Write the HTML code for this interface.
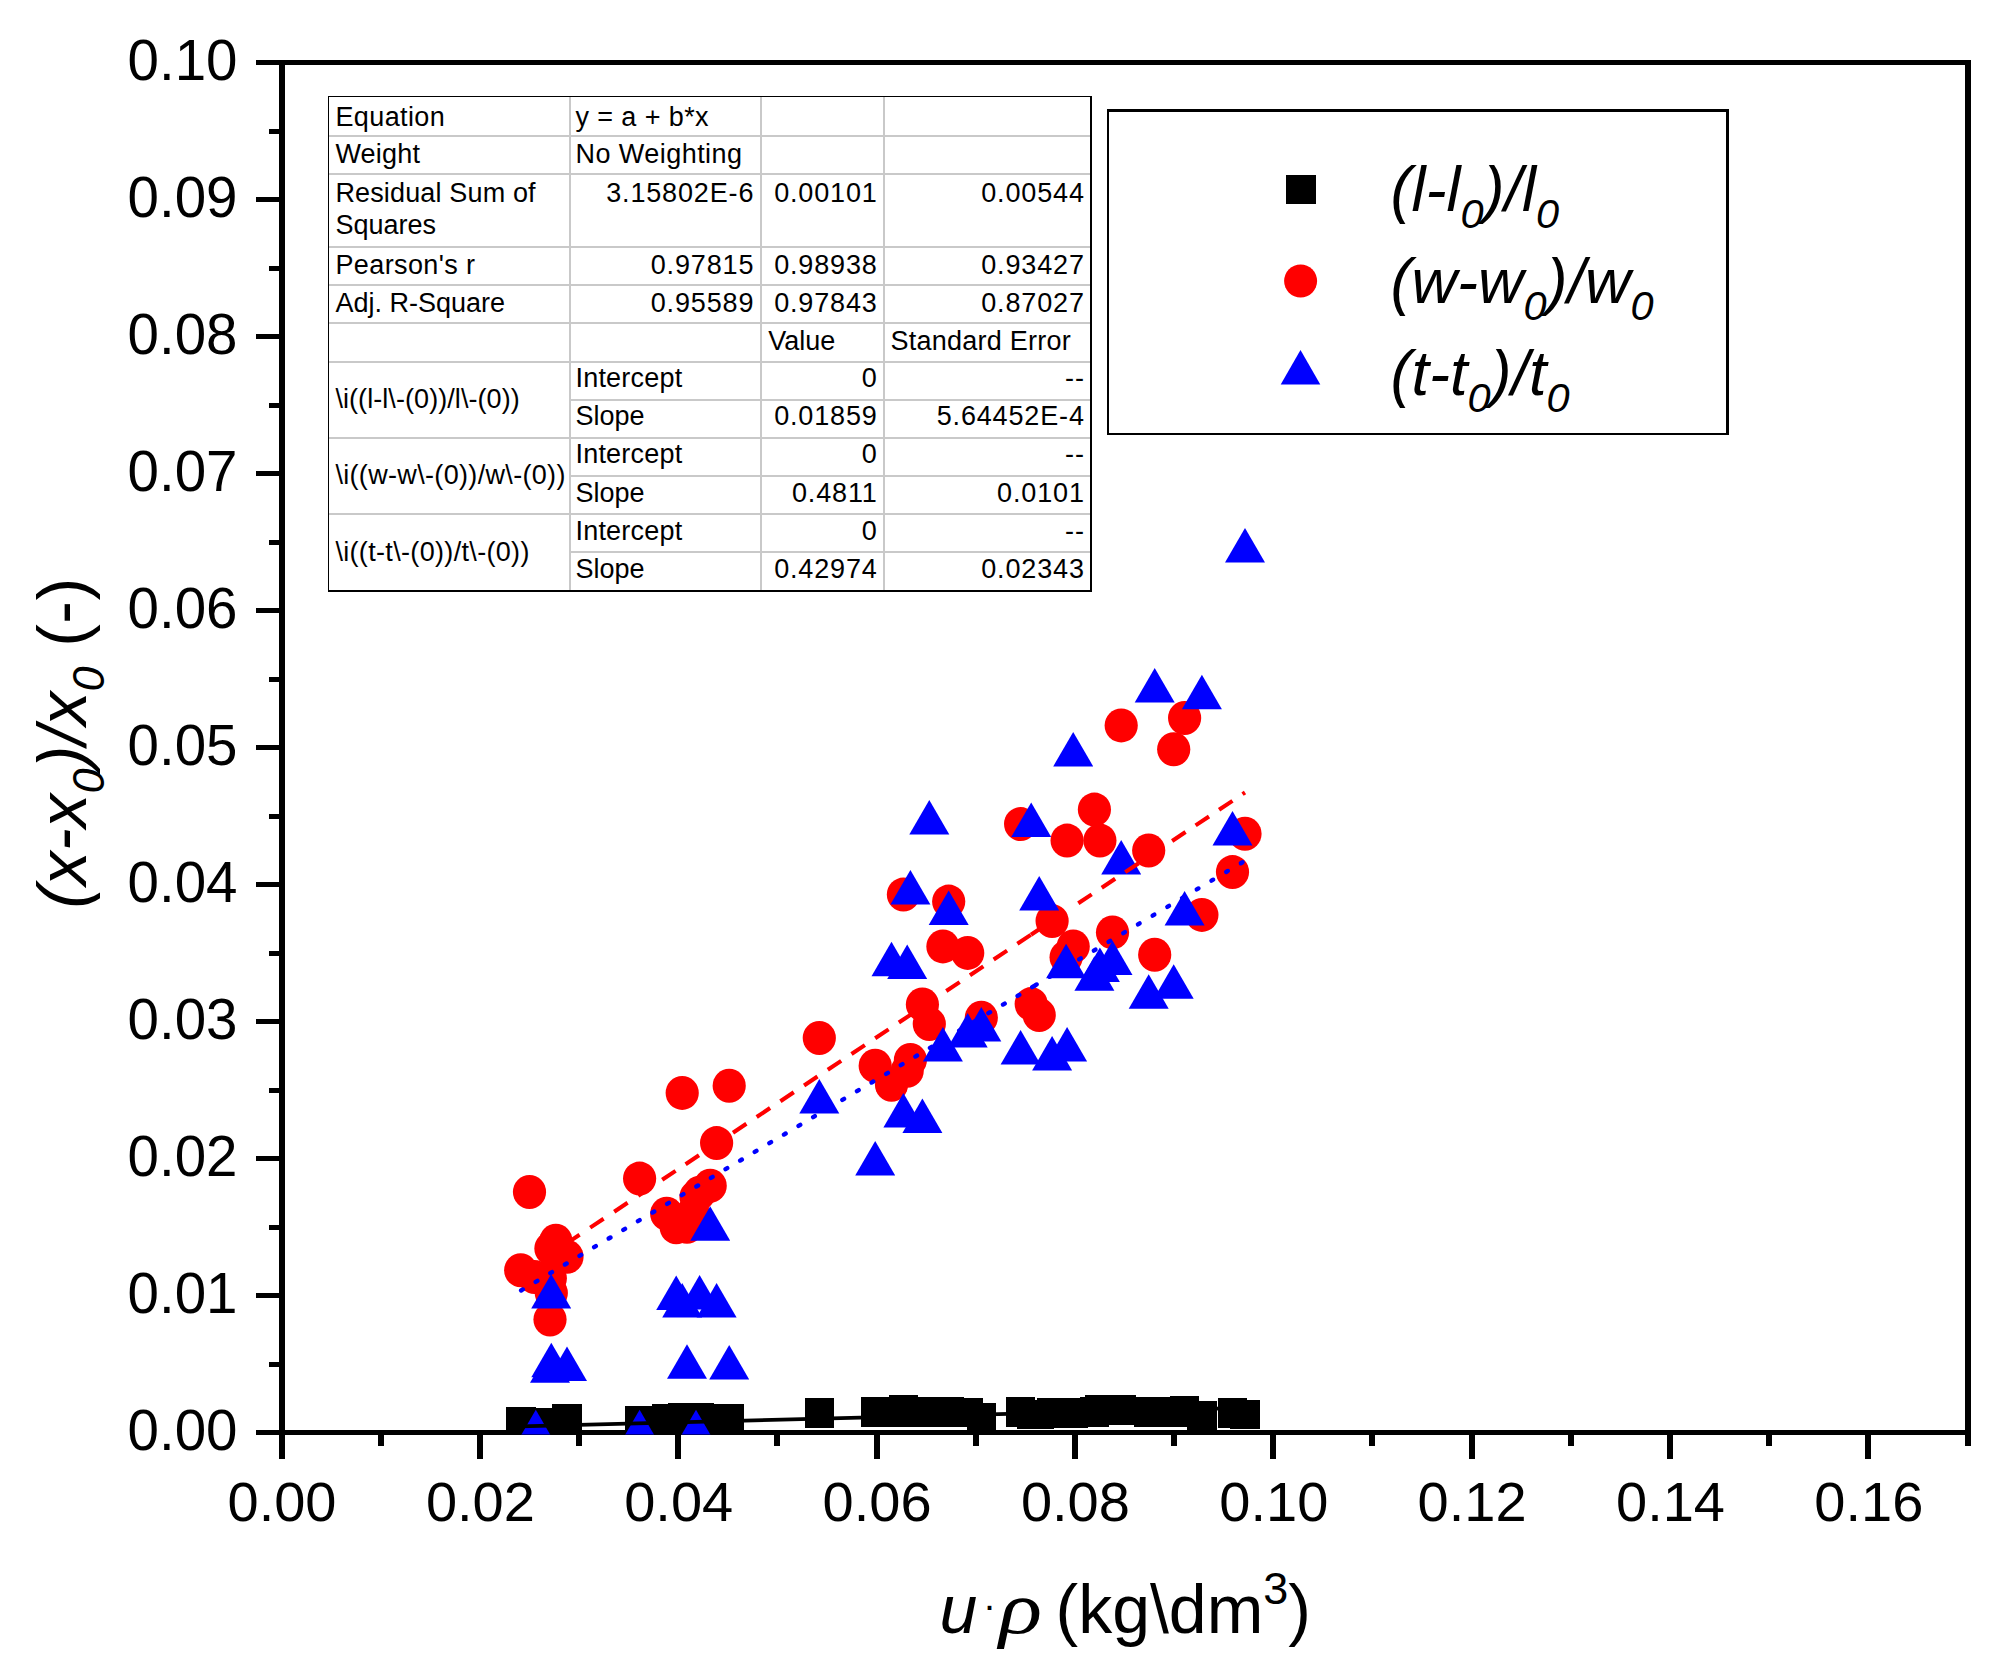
<!DOCTYPE html>
<html lang="en"><head><meta charset="utf-8"><title>Linear fit plot</title>
<style>
html,body{margin:0;padding:0;background:#fff;}
body{width:2011px;height:1678px;overflow:hidden;}
svg{display:block;}
text{font-family:"Liberation Sans",Arial,sans-serif;fill:#000;}
.tk{font-size:56.5px;}
.tt{font-size:68px;}
.lg{font-size:63px;font-style:italic;}
.tb{font-size:27px;}
.it{font-style:italic;}
.rho{font-family:"Liberation Serif","DejaVu Serif",serif;font-style:italic;font-size:73px;}
.num{letter-spacing:0.85px;}
</style></head><body>
<svg width="2011" height="1678" viewBox="0 0 2011 1678">
<rect x="0" y="0" width="2011" height="1678" fill="#fff"/>
<g fill="#000" shape-rendering="crispEdges">
<rect x="256" y="60" width="1715" height="5"/>
<rect x="256" y="1430" width="1715" height="5"/>
<rect x="279" y="60" width="6" height="1399"/>
<rect x="1965" y="60" width="6" height="1386"/>
<rect x="269" y="1361.5" width="11" height="5"/>
<rect x="256" y="1293.0" width="24" height="5"/>
<rect x="269" y="1224.5" width="11" height="5"/>
<rect x="256" y="1156.0" width="24" height="5"/>
<rect x="269" y="1087.5" width="11" height="5"/>
<rect x="256" y="1019.0" width="24" height="5"/>
<rect x="269" y="950.5" width="11" height="5"/>
<rect x="256" y="882.0" width="24" height="5"/>
<rect x="269" y="813.5" width="11" height="5"/>
<rect x="256" y="745.0" width="24" height="5"/>
<rect x="269" y="676.5" width="11" height="5"/>
<rect x="256" y="608.0" width="24" height="5"/>
<rect x="269" y="539.5" width="11" height="5"/>
<rect x="256" y="471.0" width="24" height="5"/>
<rect x="269" y="402.5" width="11" height="5"/>
<rect x="256" y="334.0" width="24" height="5"/>
<rect x="269" y="265.5" width="11" height="5"/>
<rect x="256" y="197.0" width="24" height="5"/>
<rect x="269" y="128.5" width="11" height="5"/>
<rect x="377.7" y="1434" width="6" height="12"/>
<rect x="476.9" y="1434" width="6" height="25"/>
<rect x="576.0" y="1434" width="6" height="12"/>
<rect x="675.2" y="1434" width="6" height="25"/>
<rect x="774.4" y="1434" width="6" height="12"/>
<rect x="873.6" y="1434" width="6" height="25"/>
<rect x="972.7" y="1434" width="6" height="12"/>
<rect x="1071.9" y="1434" width="6" height="25"/>
<rect x="1171.1" y="1434" width="6" height="12"/>
<rect x="1270.3" y="1434" width="6" height="25"/>
<rect x="1369.4" y="1434" width="6" height="12"/>
<rect x="1468.6" y="1434" width="6" height="25"/>
<rect x="1567.8" y="1434" width="6" height="12"/>
<rect x="1667.0" y="1434" width="6" height="25"/>
<rect x="1766.1" y="1434" width="6" height="12"/>
<rect x="1865.3" y="1434" width="6" height="25"/>
</g>
<g class="tk" text-anchor="end">
<text x="237.5" y="1450.1">0.00</text>
<text x="237.5" y="1313.1">0.01</text>
<text x="237.5" y="1176.1">0.02</text>
<text x="237.5" y="1039.1">0.03</text>
<text x="237.5" y="902.1">0.04</text>
<text x="237.5" y="765.1">0.05</text>
<text x="237.5" y="628.1">0.06</text>
<text x="237.5" y="491.1">0.07</text>
<text x="237.5" y="354.1">0.08</text>
<text x="237.5" y="217.1">0.09</text>
<text x="237.5" y="80.1">0.10</text>
</g>
<g class="tk" text-anchor="middle" style="font-size:56px">
<text x="282.0" y="1521.2">0.00</text>
<text x="480.4" y="1521.2">0.02</text>
<text x="678.7" y="1521.2">0.04</text>
<text x="877.1" y="1521.2">0.06</text>
<text x="1075.4" y="1521.2">0.08</text>
<text x="1273.8" y="1521.2">0.10</text>
<text x="1472.1" y="1521.2">0.12</text>
<text x="1670.5" y="1521.2">0.14</text>
<text x="1868.8" y="1521.2">0.16</text>
</g>
<text class="tt it" x="939.5" y="1632.7">u</text>
<text x="983" y="1619" font-size="39px">&#183;</text>
<text class="rho" transform="translate(999 1632.7) scale(1.23 1)">&#961;</text>
<text class="tt" x="1055.5" y="1632.7">(kg\dm<tspan font-size="45px" dy="-28.4">3</tspan><tspan dy="28.4">)</tspan></text>
<text class="tt" transform="translate(86.1 908.5) rotate(-90)" letter-spacing="0.4"><tspan class="it">(x-x</tspan><tspan class="it" font-size="45px" dy="17.6">0</tspan><tspan class="it" dy="-17.6">)/x</tspan><tspan class="it" font-size="45px" dy="17.6">0</tspan><tspan dy="-17.6"> (-)</tspan></text>
<defs><clipPath id="pc"><rect x="279" y="60" width="1692" height="1374.5"/></clipPath></defs>
<g clip-path="url(#pc)">
<g fill="#000" shape-rendering="crispEdges">
<rect x="506.0" y="1407.0" width="29.5" height="29.8"/>
<rect x="514.8" y="1407.7" width="29.5" height="29.8"/>
<rect x="521.0" y="1407.7" width="29.5" height="29.8"/>
<rect x="535.2" y="1407.7" width="29.5" height="29.8"/>
<rect x="536.5" y="1407.7" width="29.5" height="29.8"/>
<rect x="541.1" y="1407.7" width="29.5" height="29.8"/>
<rect x="552.2" y="1404.1" width="29.5" height="29.8"/>
<rect x="624.9" y="1405.9" width="29.5" height="29.8"/>
<rect x="652.0" y="1404.0" width="29.5" height="29.8"/>
<rect x="661.5" y="1404.0" width="29.5" height="29.8"/>
<rect x="667.5" y="1402.9" width="29.5" height="29.8"/>
<rect x="672.2" y="1402.9" width="29.5" height="29.8"/>
<rect x="681.2" y="1402.9" width="29.5" height="29.8"/>
<rect x="684.9" y="1402.9" width="29.5" height="29.8"/>
<rect x="695.5" y="1403.7" width="29.5" height="29.8"/>
<rect x="701.9" y="1404.0" width="29.5" height="29.8"/>
<rect x="714.5" y="1404.0" width="29.5" height="29.8"/>
<rect x="804.5" y="1397.9" width="29.5" height="29.8"/>
<rect x="860.5" y="1397.1" width="29.5" height="29.8"/>
<rect x="876.8" y="1397.1" width="29.5" height="29.8"/>
<rect x="888.6" y="1394.9" width="29.5" height="29.8"/>
<rect x="892.5" y="1397.1" width="29.5" height="29.8"/>
<rect x="895.6" y="1397.1" width="29.5" height="29.8"/>
<rect x="907.6" y="1397.1" width="29.5" height="29.8"/>
<rect x="914.5" y="1397.1" width="29.5" height="29.8"/>
<rect x="928.1" y="1397.1" width="29.5" height="29.8"/>
<rect x="934.0" y="1396.7" width="29.5" height="29.8"/>
<rect x="953.0" y="1397.5" width="29.5" height="29.8"/>
<rect x="966.5" y="1402.6" width="29.5" height="29.8"/>
<rect x="1005.9" y="1397.1" width="29.5" height="29.8"/>
<rect x="1016.5" y="1399.6" width="29.5" height="29.8"/>
<rect x="1024.5" y="1399.6" width="29.5" height="29.8"/>
<rect x="1037.3" y="1397.8" width="29.5" height="29.8"/>
<rect x="1051.3" y="1397.8" width="29.5" height="29.8"/>
<rect x="1052.3" y="1397.8" width="29.5" height="29.8"/>
<rect x="1058.5" y="1397.8" width="29.5" height="29.8"/>
<rect x="1079.7" y="1397.1" width="29.5" height="29.8"/>
<rect x="1085.2" y="1394.9" width="29.5" height="29.8"/>
<rect x="1097.8" y="1395.6" width="29.5" height="29.8"/>
<rect x="1106.5" y="1394.9" width="29.5" height="29.8"/>
<rect x="1134.0" y="1397.1" width="29.5" height="29.8"/>
<rect x="1140.0" y="1397.1" width="29.5" height="29.8"/>
<rect x="1159.0" y="1397.1" width="29.5" height="29.8"/>
<rect x="1169.8" y="1395.9" width="29.5" height="29.8"/>
<rect x="1187.2" y="1401.1" width="29.5" height="29.8"/>
<rect x="1217.8" y="1397.7" width="29.5" height="29.8"/>
<rect x="1230.2" y="1399.6" width="29.5" height="29.8"/>
</g>
<g fill="#f00">
<ellipse cx="520.7" cy="1270.2" rx="16.6" ry="17"/>
<ellipse cx="529.5" cy="1192.0" rx="16.6" ry="17"/>
<ellipse cx="534.5" cy="1277.0" rx="16.6" ry="17"/>
<ellipse cx="550.0" cy="1319.6" rx="16.6" ry="17"/>
<ellipse cx="550.3" cy="1278.2" rx="16.6" ry="17"/>
<ellipse cx="550.9" cy="1248.4" rx="16.6" ry="17"/>
<ellipse cx="551.3" cy="1293.0" rx="16.6" ry="17"/>
<ellipse cx="555.9" cy="1240.7" rx="16.6" ry="17"/>
<ellipse cx="567.0" cy="1256.8" rx="16.6" ry="17"/>
<ellipse cx="639.6" cy="1178.6" rx="16.6" ry="17"/>
<ellipse cx="666.7" cy="1213.8" rx="16.6" ry="17"/>
<ellipse cx="676.2" cy="1227.2" rx="16.6" ry="17"/>
<ellipse cx="682.2" cy="1092.9" rx="16.6" ry="17"/>
<ellipse cx="687.0" cy="1226.7" rx="16.6" ry="17"/>
<ellipse cx="696.0" cy="1197.1" rx="16.6" ry="17"/>
<ellipse cx="693.0" cy="1213.0" rx="16.6" ry="17"/>
<ellipse cx="699.6" cy="1192.7" rx="16.6" ry="17"/>
<ellipse cx="710.2" cy="1185.7" rx="16.6" ry="17"/>
<ellipse cx="716.6" cy="1143.1" rx="16.6" ry="17"/>
<ellipse cx="729.2" cy="1085.8" rx="16.6" ry="17"/>
<ellipse cx="819.3" cy="1038.0" rx="16.6" ry="17"/>
<ellipse cx="875.2" cy="1065.8" rx="16.6" ry="17"/>
<ellipse cx="891.5" cy="1084.8" rx="16.6" ry="17"/>
<ellipse cx="903.4" cy="894.6" rx="16.6" ry="17"/>
<ellipse cx="907.2" cy="1070.8" rx="16.6" ry="17"/>
<ellipse cx="910.4" cy="1059.9" rx="16.6" ry="17"/>
<ellipse cx="922.4" cy="1004.4" rx="16.6" ry="17"/>
<ellipse cx="929.3" cy="1024.0" rx="16.6" ry="17"/>
<ellipse cx="942.9" cy="946.4" rx="16.6" ry="17"/>
<ellipse cx="948.7" cy="901.6" rx="16.6" ry="17"/>
<ellipse cx="967.7" cy="952.9" rx="16.6" ry="17"/>
<ellipse cx="981.3" cy="1017.8" rx="16.6" ry="17"/>
<ellipse cx="1020.6" cy="824.1" rx="16.6" ry="17"/>
<ellipse cx="1031.2" cy="1004.1" rx="16.6" ry="17"/>
<ellipse cx="1039.2" cy="1015.0" rx="16.6" ry="17"/>
<ellipse cx="1052.1" cy="921.1" rx="16.6" ry="17"/>
<ellipse cx="1066.1" cy="957.3" rx="16.6" ry="17"/>
<ellipse cx="1067.1" cy="840.6" rx="16.6" ry="17"/>
<ellipse cx="1073.2" cy="946.4" rx="16.6" ry="17"/>
<ellipse cx="1094.4" cy="809.6" rx="16.6" ry="17"/>
<ellipse cx="1099.9" cy="840.6" rx="16.6" ry="17"/>
<ellipse cx="1112.5" cy="932.4" rx="16.6" ry="17"/>
<ellipse cx="1121.2" cy="725.4" rx="16.6" ry="17"/>
<ellipse cx="1148.7" cy="850.5" rx="16.6" ry="17"/>
<ellipse cx="1154.7" cy="954.7" rx="16.6" ry="17"/>
<ellipse cx="1173.7" cy="749.3" rx="16.6" ry="17"/>
<ellipse cx="1184.6" cy="718.0" rx="16.6" ry="17"/>
<ellipse cx="1201.9" cy="914.9" rx="16.6" ry="17"/>
<ellipse cx="1232.5" cy="872.1" rx="16.6" ry="17"/>
<ellipse cx="1245.0" cy="833.7" rx="16.6" ry="17"/>
</g>
<g fill="#00f">
<path d="M535.8 1409.8L555.8 1444.3H515.8Z"/>
<path d="M550.0 1348.3L570.0 1382.8H530.0Z"/>
<path d="M551.3 1342.8L571.3 1377.3H531.3Z"/>
<path d="M551.2 1274.1L571.2 1308.6H531.2Z"/>
<path d="M567.0 1346.5L587.0 1381.0H547.0Z"/>
<path d="M639.6 1409.8L659.6 1444.3H619.6Z"/>
<path d="M676.2 1275.6L696.2 1310.1H656.2Z"/>
<path d="M682.2 1282.9L702.2 1317.4H662.2Z"/>
<path d="M687.0 1344.2L707.0 1378.7H667.0Z"/>
<path d="M696.0 1409.8L716.0 1444.3H676.0Z"/>
<path d="M699.6 1274.9L719.6 1309.4H679.6Z"/>
<path d="M710.2 1206.2L730.2 1240.7H690.2Z"/>
<path d="M716.6 1282.9L736.6 1317.4H696.6Z"/>
<path d="M729.2 1345.0L749.2 1379.5H709.2Z"/>
<path d="M819.3 1079.0L839.3 1113.5H799.3Z"/>
<path d="M875.2 1141.1L895.2 1175.6H855.2Z"/>
<path d="M891.5 941.8L911.5 976.3H871.5Z"/>
<path d="M903.4 1093.0L923.4 1127.5H883.4Z"/>
<path d="M907.2 944.4L927.2 978.9H887.2Z"/>
<path d="M910.4 870.1L930.4 904.6H890.4Z"/>
<path d="M922.4 1098.6L942.4 1133.1H902.4Z"/>
<path d="M929.3 800.0L949.3 834.5H909.3Z"/>
<path d="M942.9 1027.0L962.9 1061.5H922.9Z"/>
<path d="M948.7 890.6L968.7 925.1H928.7Z"/>
<path d="M967.7 1013.0L987.7 1047.5H947.7Z"/>
<path d="M981.3 1007.0L1001.3 1041.5H961.3Z"/>
<path d="M1020.6 1030.0L1040.6 1064.5H1000.6Z"/>
<path d="M1031.2 802.6L1051.2 837.1H1011.2Z"/>
<path d="M1039.2 876.1L1059.2 910.6H1019.2Z"/>
<path d="M1052.1 1035.9L1072.1 1070.4H1032.1Z"/>
<path d="M1066.1 943.8L1086.1 978.3H1046.1Z"/>
<path d="M1067.1 1027.0L1087.1 1061.5H1047.1Z"/>
<path d="M1073.2 731.9L1093.2 766.4H1053.2Z"/>
<path d="M1094.4 956.3L1114.4 990.8H1074.4Z"/>
<path d="M1099.9 947.4L1119.9 981.9H1079.9Z"/>
<path d="M1112.5 940.4L1132.5 974.9H1092.5Z"/>
<path d="M1121.2 840.1L1141.2 874.6H1101.2Z"/>
<path d="M1148.7 974.2L1168.7 1008.7H1128.7Z"/>
<path d="M1154.7 667.9L1174.7 702.4H1134.7Z"/>
<path d="M1173.7 964.3L1193.7 998.8H1153.7Z"/>
<path d="M1184.6 891.0L1204.6 925.5H1164.6Z"/>
<path d="M1201.9 674.8L1221.9 709.3H1181.9Z"/>
<path d="M1232.5 811.0L1252.5 845.5H1212.5Z"/>
<path d="M1245.0 528.0L1265.0 562.5H1225.0Z"/>
</g>
<g fill="none">
<path stroke="#000" stroke-width="3.7" d="M520.5 1426.4L1245.0 1407.8"/>
<path stroke="#f00" stroke-width="4.1" stroke-dasharray="16.09 12.73" d="M518.2 1275.5L685.6 1164.2"/>
<path stroke="#f00" stroke-width="4.1" stroke-dasharray="16.09 12.36" d="M685.6 1164.2L1031.5 934.4"/>
<path stroke="#f00" stroke-width="4.1" d="M1031.0 934.7L1045.6 925.0M1050.0 922.1L1064.0 912.8"/>
<path stroke="#f00" stroke-width="4.1" stroke-dasharray="16.09 12.08" d="M1078.3 903.3L1245.0 792.5"/>
<path stroke="#00f" stroke-width="4.4" stroke-linecap="round" stroke-dasharray="2.00 14.98" d="M521.1 1290.5L1034.4 985.9"/>
<path stroke="#00f" stroke-width="4.4" stroke-linecap="round" stroke-dasharray="2.00 15.10" d="M1035.0 985.5L1245.5 860.5"/>
</g>
</g>
<g shape-rendering="crispEdges">
<rect x="1107" y="109" width="622" height="326" fill="#fff"/>
<rect x="1107" y="109" width="622" height="3" fill="#000"/>
<rect x="1107" y="433" width="622" height="2" fill="#000"/>
<rect x="1107" y="109" width="2" height="326" fill="#000"/>
<rect x="1726" y="109" width="3" height="326" fill="#000"/>
<rect x="1286" y="175" width="30" height="28.6" fill="#000"/>
</g>
<circle cx="1300.6" cy="281" r="16.5" fill="#f00"/>
<path d="M1300.5 350.1L1320.3 384.5H1280.7Z" fill="#00f"/>
<text class="lg" x="1390.5" y="210.9">(l-l<tspan font-size="41.5px" dy="17.4">0</tspan><tspan dy="-17.4">)/l</tspan><tspan font-size="41.5px" dy="17.4">0</tspan></text>
<text class="lg" x="1390.5" y="302.9">(w-w<tspan font-size="41.5px" dy="17.4">0</tspan><tspan dy="-17.4">)/w</tspan><tspan font-size="41.5px" dy="17.4">0</tspan></text>
<text class="lg" x="1390.5" y="394.9">(t-t<tspan font-size="41.5px" dy="17.4">0</tspan><tspan dy="-17.4">)/t</tspan><tspan font-size="41.5px" dy="17.4">0</tspan></text>
<g shape-rendering="crispEdges">
<rect x="328" y="96" width="764" height="496" fill="#fff"/>
<rect x="328.5" y="135.3" width="761.5" height="2" fill="#c9c9c9"/>
<rect x="328.5" y="173.1" width="761.5" height="2" fill="#c9c9c9"/>
<rect x="328.5" y="246.1" width="761.5" height="2" fill="#c9c9c9"/>
<rect x="328.5" y="283.9" width="761.5" height="2" fill="#c9c9c9"/>
<rect x="328.5" y="321.7" width="761.5" height="2" fill="#c9c9c9"/>
<rect x="328.5" y="361.0" width="761.5" height="2" fill="#c9c9c9"/>
<rect x="570.0" y="398.6" width="520.0" height="2" fill="#c9c9c9"/>
<rect x="328.5" y="437.0" width="761.5" height="2" fill="#c9c9c9"/>
<rect x="570.0" y="474.8" width="520.0" height="2" fill="#c9c9c9"/>
<rect x="328.5" y="512.7" width="761.5" height="2" fill="#c9c9c9"/>
<rect x="570.0" y="550.6" width="520.0" height="2" fill="#c9c9c9"/>
<rect x="569.0" y="97" width="2" height="493" fill="#c9c9c9"/>
<rect x="759.8" y="97" width="2" height="493" fill="#c9c9c9"/>
<rect x="883.4" y="97" width="2" height="493" fill="#c9c9c9"/>
<rect x="328" y="96" width="764" height="1" fill="#000"/>
<rect x="328" y="96" width="1" height="496" fill="#000"/>
<rect x="1090" y="96" width="2" height="496" fill="#000"/>
<rect x="328" y="590" width="764" height="2" fill="#000"/>
</g>
<g class="tb">
<text x="335.4" y="125.8" letter-spacing="0.4">Equation</text>
<text x="575.5" y="125.8" letter-spacing="0.4">y = a + b*x</text>
<text x="335.4" y="163.2" letter-spacing="0.2">Weight</text>
<text x="575.5" y="163.2" letter-spacing="0.45">No Weighting</text>
<text x="335.4" y="202.3" letter-spacing="0.15">Residual Sum of</text>
<text x="335.4" y="234.2">Squares</text>
<text x="754.3" y="202.3" class="num" text-anchor="end">3.15802E-6</text>
<text x="877.7" y="202.3" class="num" text-anchor="end">0.00101</text>
<text x="1084.8" y="202.3" class="num" text-anchor="end">0.00544</text>
<text x="335.4" y="274.3" letter-spacing="0.4">Pearson's r</text>
<text x="754.3" y="274.3" class="num" text-anchor="end">0.97815</text>
<text x="877.7" y="274.3" class="num" text-anchor="end">0.98938</text>
<text x="1084.8" y="274.3" class="num" text-anchor="end">0.93427</text>
<text x="335.4" y="311.7">Adj. R-Square</text>
<text x="754.3" y="311.7" class="num" text-anchor="end">0.95589</text>
<text x="877.7" y="311.7" class="num" text-anchor="end">0.97843</text>
<text x="1084.8" y="311.7" class="num" text-anchor="end">0.87027</text>
<text x="768.3" y="349.6">Value</text>
<text x="890.5" y="349.6" letter-spacing="0.25">Standard Error</text>
<text x="335.4" y="408.1" letter-spacing="0.07">\i((l-l\-(0))/l\-(0))</text>
<text x="575.5" y="387.2" letter-spacing="0.2">Intercept</text>
<text x="877.7" y="387.2" class="num" text-anchor="end">0</text>
<text x="1084.8" y="387.2" class="num" text-anchor="end">--</text>
<text x="575.5" y="425.0">Slope</text>
<text x="877.7" y="425.0" class="num" text-anchor="end">0.01859</text>
<text x="1084.8" y="425.0" class="num" text-anchor="end">5.64452E-4</text>
<text x="335.4" y="484.1" letter-spacing="0.33">\i((w-w\-(0))/w\-(0))</text>
<text x="575.5" y="463.2" letter-spacing="0.2">Intercept</text>
<text x="877.7" y="463.2" class="num" text-anchor="end">0</text>
<text x="1084.8" y="463.2" class="num" text-anchor="end">--</text>
<text x="575.5" y="502.0">Slope</text>
<text x="877.7" y="502.0" class="num" text-anchor="end">0.4811</text>
<text x="1084.8" y="502.0" class="num" text-anchor="end">0.0101</text>
<text x="335.4" y="561.3" letter-spacing="0.33">\i((t-t\-(0))/t\-(0))</text>
<text x="575.5" y="539.8" letter-spacing="0.2">Intercept</text>
<text x="877.7" y="539.8" class="num" text-anchor="end">0</text>
<text x="1084.8" y="539.8" class="num" text-anchor="end">--</text>
<text x="575.5" y="578.2">Slope</text>
<text x="877.7" y="578.2" class="num" text-anchor="end">0.42974</text>
<text x="1084.8" y="578.2" class="num" text-anchor="end">0.02343</text>
</g>
</svg></body></html>
